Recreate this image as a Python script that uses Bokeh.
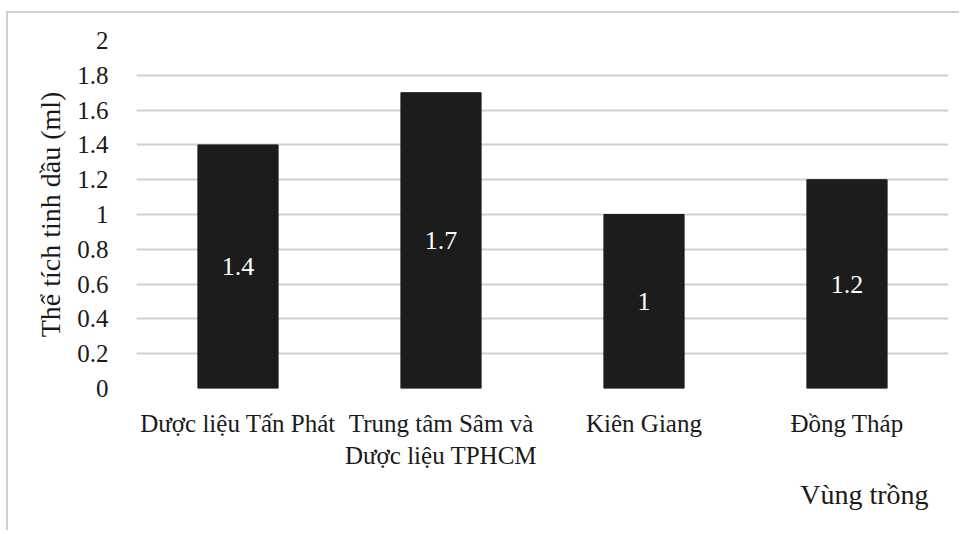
from bokeh.plotting import figure
from bokeh.models import FactorRange, Range1d, FixedTicker, Title, ColumnDataSource
from bokeh.embed import file_html
from bokeh.resources import INLINE
from bokeh.core.properties import value

# Essential-oil volume by growing region
regions = ["Dược liệu Tấn Phát", "Trung tâm Sâm và\nDược liệu TPHCM", "Kiên Giang", "Đồng Tháp"]
volumes = [1.4, 1.7, 1.0, 1.2]
volume_labels = ["1.4", "1.7", "1", "1.2"]

y_ticks = [0, 0.2, 0.4, 0.6, 0.8, 1.0, 1.2, 1.4, 1.6, 1.8, 2.0]
y_tick_labels = ["0", "0.2", "0.4", "0.6", "0.8", "1", "1.2", "1.4", "1.6", "1.8", "2"]

FONT = "Liberation Serif"
INK = "#1a1a1a"
FRAME = "#cfcfcf"

source = ColumnDataSource(dict(
    region=regions,
    volume=volumes,
    label=volume_labels,
    mid=[v / 2 for v in volumes],
))

p = figure(
    x_range=FactorRange(*regions, range_padding=0.0),
    y_range=Range1d(0, 2),
    width=953, height=519,
    output_backend="svg",
    toolbar_location=None,
    min_border_left=128, min_border_right=13,
    min_border_top=27, min_border_bottom=144,
    background_fill_color="white",
    border_fill_color="white",
    styles={"border-top": f"2px solid {FRAME}", "border-left": f"2px solid {FRAME}"},
    margin=(11, 0, 0, 6),
)
p.outline_line_color = None

p.vbar(x="region", top="volume", width=0.395, source=source,
       fill_color="#1c1c1c", line_color="#1c1c1c")

# value labels in the middle of each bar
p.text(x="region", y="mid", text="label", source=source,
       text_color="white", text_font=value(FONT), text_font_size="26px",
       text_align="center", text_baseline="middle")

# y axis
p.yaxis.ticker = FixedTicker(ticks=y_ticks)
p.yaxis.major_label_overrides = {t: s for t, s in zip(y_ticks, y_tick_labels)}
p.yaxis.axis_label = "Thể tích tinh dầu (ml)"
p.yaxis.axis_label_text_font = FONT
p.yaxis.axis_label_text_font_style = "normal"
p.yaxis.axis_label_text_font_size = "28px"
p.yaxis.axis_label_text_color = INK
p.yaxis.axis_label_standoff = 8
p.yaxis.major_label_text_font = FONT
p.yaxis.major_label_text_font_size = "25px"
p.yaxis.major_label_text_color = INK
p.yaxis.major_label_standoff = 22
p.yaxis.axis_line_color = None
p.yaxis.major_tick_line_color = None
p.yaxis.minor_tick_line_color = None

# x axis
p.xaxis.major_label_text_font = FONT
p.xaxis.major_label_text_font_size = "25px"
p.xaxis.major_label_text_color = INK
p.xaxis.major_label_standoff = 15
p.xaxis.axis_line_color = None
p.xaxis.major_tick_line_color = None
p.xaxis.minor_tick_line_color = None

p.add_layout(Title(text="Vùng trồng", align="right", offset=20,
                   text_font=FONT, text_font_style="normal",
                   text_font_size="28px", text_color=INK,
                   standoff=10), "below")

p.xgrid.grid_line_color = None
p.ygrid.grid_line_color = "#cfcfcf"
p.ygrid.grid_line_width = 2

open("out.html", "w").write(file_html(p, INLINE))
